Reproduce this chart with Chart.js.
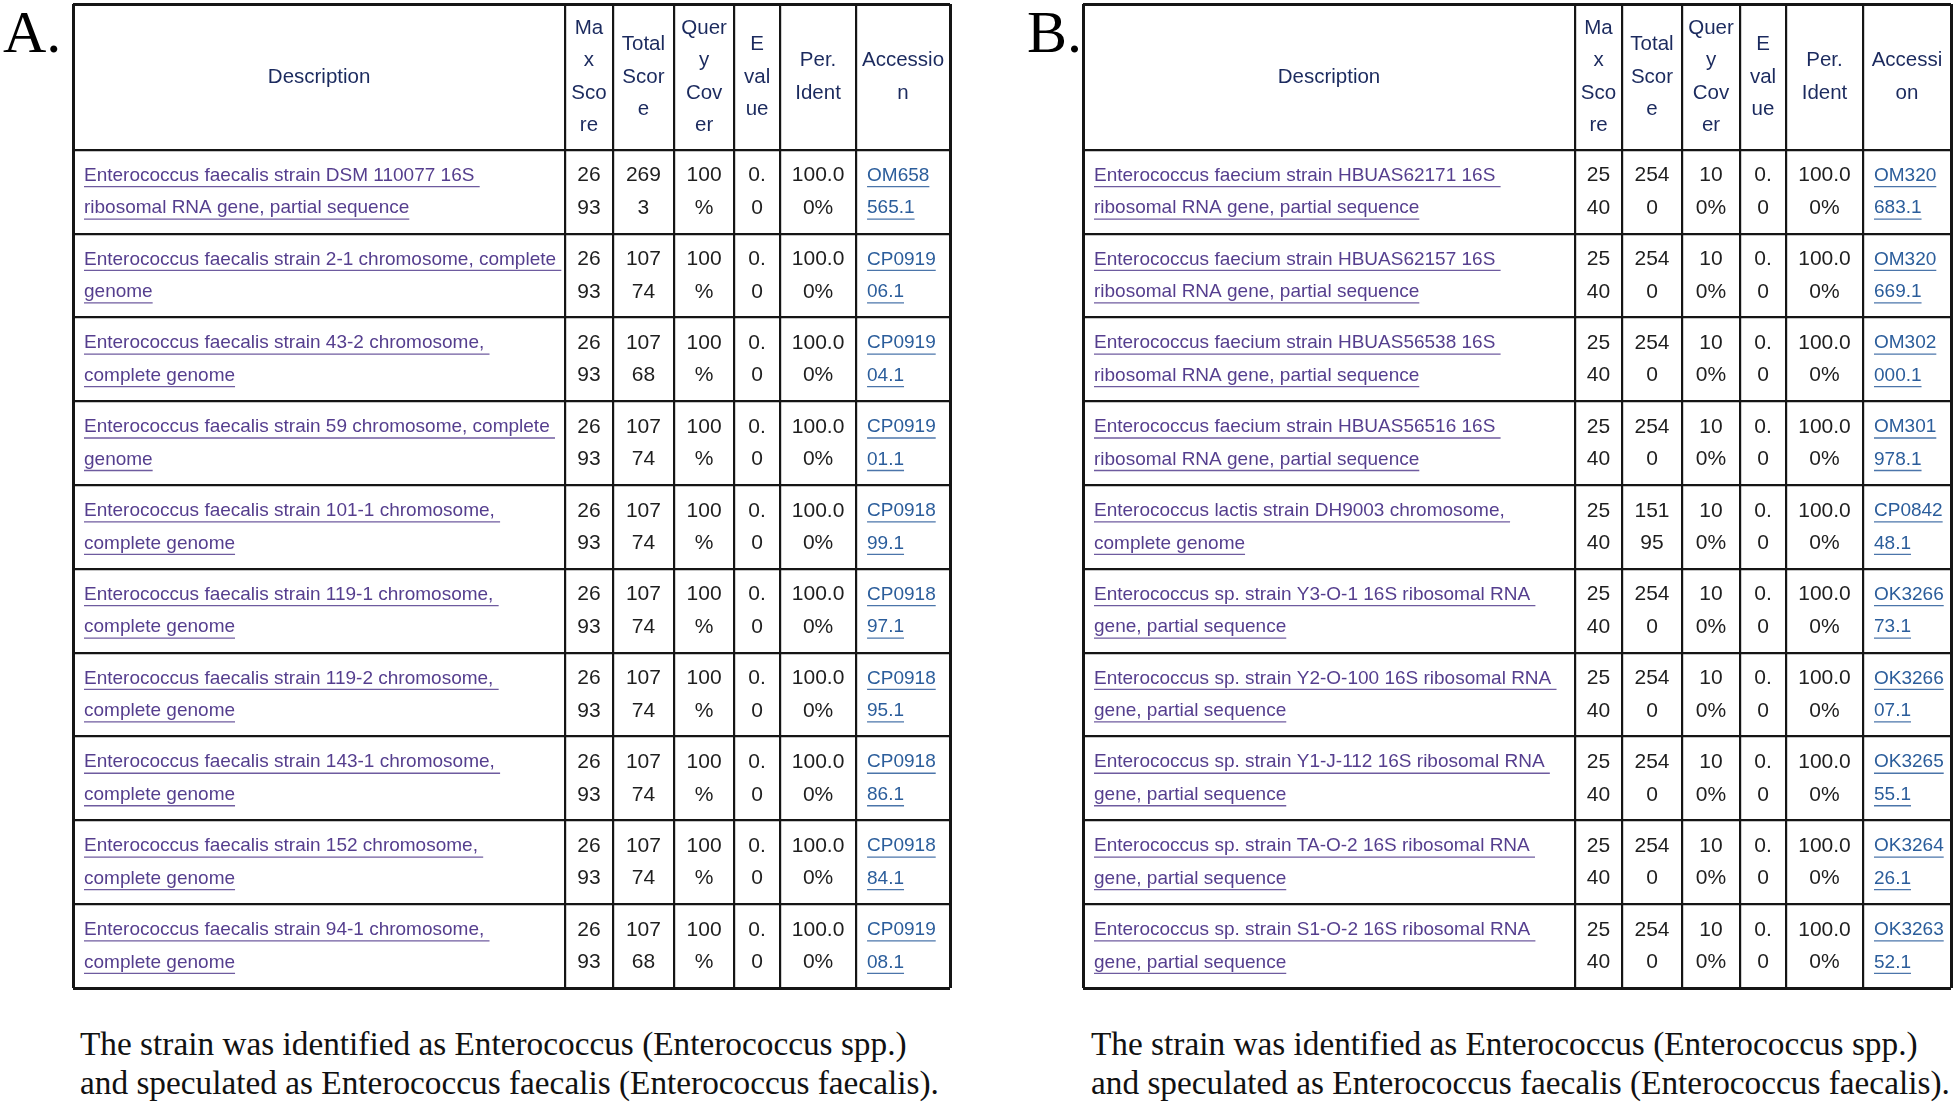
<!DOCTYPE html>
<html>
<head>
<meta charset="utf-8">
<script src="https://cdn.jsdelivr.net/npm/chart.js@4.4.1/dist/chart.umd.min.js"></script>
<style>
  body { margin: 0; width: 1960px; height: 1107px; background: #fff; position: relative; overflow: hidden; }
  canvas { position: absolute; }
  .panel { position: absolute; font-family: "Liberation Serif", "Times New Roman", serif; color: #000; font-size: 60px; line-height: 60px; }
  .caption { position: absolute; font-family: "Liberation Serif", "Times New Roman", serif; color: #111; font-size: 33.3px; line-height: 39px; white-space: nowrap; }
</style>
</head>
<body>
<div class="panel" style="left:3px; top:2px;">A.</div>
<div class="panel" style="left:1027px; top:2px;">B.</div>
<canvas id="tableA"></canvas>
<canvas id="tableB"></canvas>
<div class="caption" style="left:80px; top:1024px;">The strain was identified as Enterococcus (Enterococcus spp.)<br>and speculated as Enterococcus faecalis (Enterococcus faecalis).</div>
<div class="caption" style="left:1091px; top:1024px;">The strain was identified as Enterococcus (Enterococcus spp.)<br>and speculated as Enterococcus faecalis (Enterococcus faecalis).</div>
<script>
// column headings (same for both tables)
const colHeaders = ['Description', 'Max Score', 'Total Score', 'Query Cover', 'E value', 'Per. Ident', 'Accession'];

// table A
const descA = [
  'Enterococcus faecalis strain DSM 110077 16S ribosomal RNA gene, partial sequence',
  'Enterococcus faecalis strain 2-1 chromosome, complete genome',
  'Enterococcus faecalis strain 43-2 chromosome, complete genome',
  'Enterococcus faecalis strain 59 chromosome, complete genome',
  'Enterococcus faecalis strain 101-1 chromosome, complete genome',
  'Enterococcus faecalis strain 119-1 chromosome, complete genome',
  'Enterococcus faecalis strain 119-2 chromosome, complete genome',
  'Enterococcus faecalis strain 143-1 chromosome, complete genome',
  'Enterococcus faecalis strain 152 chromosome, complete genome',
  'Enterococcus faecalis strain 94-1 chromosome, complete genome'
];
const maxScoreA = ['2693', '2693', '2693', '2693', '2693', '2693', '2693', '2693', '2693', '2693'];
const totalScoreA = ['2693', '10774', '10768', '10774', '10774', '10774', '10774', '10774', '10774', '10768'];
const queryCoverA = ['100%', '100%', '100%', '100%', '100%', '100%', '100%', '100%', '100%', '100%'];
const eValueA = ['0.0', '0.0', '0.0', '0.0', '0.0', '0.0', '0.0', '0.0', '0.0', '0.0'];
const perIdentA = ['100.00%', '100.00%', '100.00%', '100.00%', '100.00%', '100.00%', '100.00%', '100.00%', '100.00%', '100.00%'];
const accessionA = ['OM658565.1', 'CP091906.1', 'CP091904.1', 'CP091901.1', 'CP091899.1', 'CP091897.1', 'CP091895.1', 'CP091886.1', 'CP091884.1', 'CP091908.1'];

// table B
const descB = [
  'Enterococcus faecium strain HBUAS62171 16S ribosomal RNA gene, partial sequence',
  'Enterococcus faecium strain HBUAS62157 16S ribosomal RNA gene, partial sequence',
  'Enterococcus faecium strain HBUAS56538 16S ribosomal RNA gene, partial sequence',
  'Enterococcus faecium strain HBUAS56516 16S ribosomal RNA gene, partial sequence',
  'Enterococcus lactis strain DH9003 chromosome, complete genome',
  'Enterococcus sp. strain Y3-O-1 16S ribosomal RNA gene, partial sequence',
  'Enterococcus sp. strain Y2-O-100 16S ribosomal RNA gene, partial sequence',
  'Enterococcus sp. strain Y1-J-112 16S ribosomal RNA gene, partial sequence',
  'Enterococcus sp. strain TA-O-2 16S ribosomal RNA gene, partial sequence',
  'Enterococcus sp. strain S1-O-2 16S ribosomal RNA gene, partial sequence'
];
const maxScoreB = ['2540', '2540', '2540', '2540', '2540', '2540', '2540', '2540', '2540', '2540'];
const totalScoreB = ['2540', '2540', '2540', '2540', '15195', '2540', '2540', '2540', '2540', '2540'];
const queryCoverB = ['100%', '100%', '100%', '100%', '100%', '100%', '100%', '100%', '100%', '100%'];
const eValueB = ['0.0', '0.0', '0.0', '0.0', '0.0', '0.0', '0.0', '0.0', '0.0', '0.0'];
const perIdentB = ['100.00%', '100.00%', '100.00%', '100.00%', '100.00%', '100.00%', '100.00%', '100.00%', '100.00%', '100.00%'];
const accessionB = ['OM320683.1', 'OM320669.1', 'OM302000.1', 'OM301978.1', 'CP084248.1', 'OK326673.1', 'OK326607.1', 'OK326555.1', 'OK326426.1', 'OK326352.1'];

// layout / styles
const PAD = 4;
const ROW_H = 83.85;
const HEAD_H = 146;
const HEAD_U = HEAD_H / ROW_H;   // header height in row units
const LINE_H = 32.5;

const headStyle = { font: '20.5px "Liberation Sans", Arial, sans-serif', color: '#1b2a5e', align: 'center' };
const numStyle = { font: '21px "Liberation Sans", Arial, sans-serif', color: '#1e1e1e', align: 'center' };
const descStyle = { font: '19px "Liberation Sans", Arial, sans-serif', color: '#553e8e', align: 'left', underline: true, trail: true };
const accStyle = { font: '19px "Liberation Sans", Arial, sans-serif', color: '#2b5d9b', align: 'left', underline: true };
const colStyles = [descStyle, numStyle, numStyle, numStyle, numStyle, numStyle, accStyle];

const layoutA = {
  left: 72.5, top: 3.5,
  colW: [492.5, 47.5, 61.5, 60, 46, 76, 94],
  headWrap: [476, 37, 48, 46.7, 31, 60, 87],
  bodyWrap: [475.8, 29, 41, 44, 23, 58, 70.8]
};
const layoutB = {
  left: 1083, top: 3.5,
  colW: [492, 47, 60, 58, 46, 77, 88],
  headWrap: [476, 37, 48, 46.7, 31, 60, 76],
  bodyWrap: [475.8, 29, 41, 32.5, 23, 58, 70.8]
};

function wrapText(ctx, text, maxW) {
  const words = text.split(' ');
  const lines = [];
  let cur = '';
  words.forEach(w => {
    const test = cur ? cur + ' ' + w : w;
    if (ctx.measureText(test).width <= maxW) { cur = test; return; }
    if (cur) { lines.push({ t: cur, sp: true }); cur = ''; }
    let rest = w;
    while (rest.length > 1 && ctx.measureText(rest).width > maxW) {
      let n = 1;
      while (n < rest.length && ctx.measureText(rest.slice(0, n + 1)).width <= maxW) n++;
      lines.push({ t: rest.slice(0, n), sp: false });
      rest = rest.slice(n);
    }
    cur = rest;
  });
  if (cur) lines.push({ t: cur, sp: false });
  return lines;
}

function drawCell(ctx, text, x0, x1, y0, y1, st, maxW) {
  ctx.font = st.font;
  const lines = wrapText(ctx, text, maxW);
  const cy = (y0 + y1) / 2;
  const first = cy - (lines.length - 1) * LINE_H / 2;
  ctx.fillStyle = st.color;
  ctx.strokeStyle = st.color;
  ctx.textBaseline = 'middle';
  lines.forEach((ln, i) => {
    const y = first + i * LINE_H;
    let x;
    if (st.align === 'center') { ctx.textAlign = 'center'; x = (x0 + x1) / 2; }
    else { ctx.textAlign = 'left'; x = x0 + 11; }
    ctx.fillText(ln.t, x, y);
    if (st.underline) {
      const w = ctx.measureText(st.trail && ln.sp ? ln.t + ' ' : ln.t).width;
      ctx.lineWidth = 1.3;
      ctx.globalAlpha = 0.85;
      ctx.beginPath();
      ctx.moveTo(x, y + 11);
      ctx.lineTo(x + w, y + 11);
      ctx.stroke();
      ctx.globalAlpha = 1;
    }
  });
}

function buildTable(id, layout, columns) {
  const cv = document.getElementById(id);
  const nRows = columns[0].length;
  const W = layout.colW.reduce((a, b) => a + b, 0);
  const H = HEAD_H + ROW_H * nRows;
  cv.width = W + 2 * PAD;
  cv.height = H + 2 * PAD;
  cv.style.left = (layout.left - PAD) + 'px';
  cv.style.top = (layout.top - PAD) + 'px';

  const xEdges = [0];
  layout.colW.forEach(w => xEdges.push(xEdges[xEdges.length - 1] + w));
  const yEdges = [0];
  for (let r = 0; r <= nRows; r++) yEdges.push(HEAD_U + r);

  const textPlugin = {
    id: 'tableText',
    afterDraw(chart) {
      const ctx = chart.ctx;
      const xs = chart.scales.x, ys = chart.scales.y;
      ctx.save();
      columns.forEach((vals, c) => {
        const x0 = xs.getPixelForValue(xEdges[c]);
        const x1 = xs.getPixelForValue(xEdges[c + 1]);
        drawCell(ctx, colHeaders[c], x0, x1, ys.getPixelForValue(0), ys.getPixelForValue(HEAD_U), headStyle, layout.headWrap[c]);
        vals.forEach((v, r) => {
          drawCell(ctx, v, x0, x1, ys.getPixelForValue(HEAD_U + r), ys.getPixelForValue(HEAD_U + r + 1), colStyles[c], layout.bodyWrap[c]);
        });
      });
      ctx.restore();
    }
  };

  const gridFor = edges => ({
    color: '#151515',
    lineWidth: c => (c.index === 0 || c.index === edges.length - 1) ? 3 : 2.2,
    drawTicks: false
  });

  return new Chart(cv, {
    type: 'scatter',
    data: { datasets: [{ data: [] }] },
    options: {
      responsive: false,
      animation: false,
      devicePixelRatio: 1,
      layout: { padding: PAD },
      plugins: { legend: { display: false }, tooltip: { enabled: false } },
      scales: {
        x: {
          type: 'linear', min: 0, max: W,
          afterBuildTicks: s => { s.ticks = xEdges.map(v => ({ value: v })); },
          ticks: { display: false, autoSkip: false },
          grid: gridFor(xEdges),
          border: { display: false }
        },
        y: {
          type: 'linear', reverse: true, min: 0, max: HEAD_U + nRows,
          afterBuildTicks: s => { s.ticks = yEdges.map(v => ({ value: v })); },
          ticks: { display: false, autoSkip: false },
          grid: gridFor(yEdges),
          border: { display: false }
        }
      }
    },
    plugins: [textPlugin]
  });
}

buildTable('tableA', layoutA, [descA, maxScoreA, totalScoreA, queryCoverA, eValueA, perIdentA, accessionA]);
buildTable('tableB', layoutB, [descB, maxScoreB, totalScoreB, queryCoverB, eValueB, perIdentB, accessionB]);
</script>
</body>
</html>
